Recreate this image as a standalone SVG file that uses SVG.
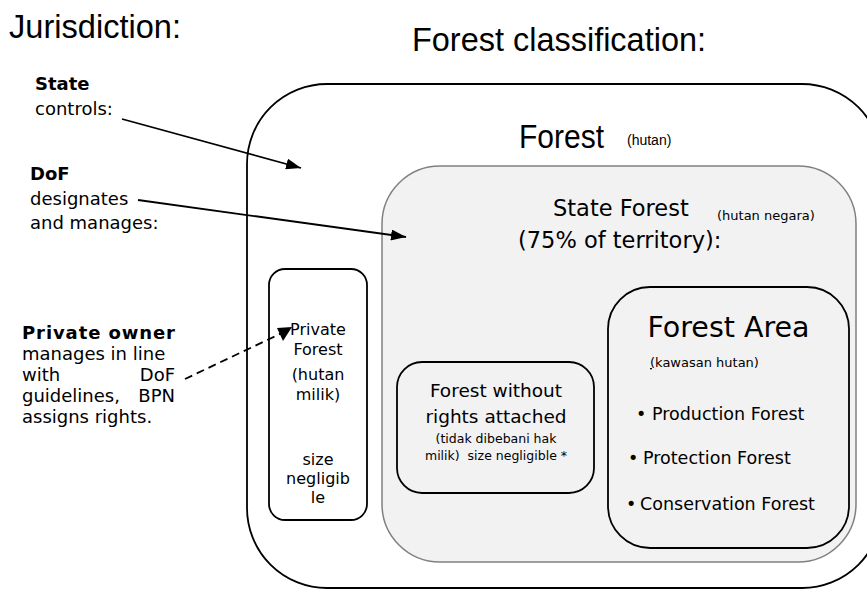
<svg xmlns="http://www.w3.org/2000/svg" width="867" height="590" viewBox="0 0 867 590">
<defs>
<style>
.t{font-family:"DejaVu Sans",Verdana,sans-serif;fill:#000}
.n{font-family:"Liberation Sans",Arial,sans-serif;fill:#000}
.b{font-weight:bold}
.box{fill:none;stroke:#000;stroke-width:1.8}
.gray{fill:#f2f2f2;stroke:#808080;stroke-width:1.5}
.conn{fill:none;stroke:#000;stroke-width:1.8}
</style>
<marker id="ah" viewBox="0 0 15 11" refX="15" refY="5.5" markerWidth="15" markerHeight="11" markerUnits="userSpaceOnUse" orient="auto">
<path d="M0,0 L15,5.5 L0,11 z" fill="#000"/>
</marker>
</defs>
<rect width="867" height="590" fill="#fff"/>

<text class="n" x="9" y="38" font-size="34" textLength="172" lengthAdjust="spacingAndGlyphs">Jurisdiction:</text>
<text class="n" x="412" y="51" font-size="34" textLength="294" lengthAdjust="spacingAndGlyphs">Forest classification:</text>

<g id="forest">
<rect x="247" y="84" width="635" height="504" rx="80" ry="80" fill="#fff" stroke="#000" stroke-width="1.8"/>
<text class="n" x="519" y="148" font-size="34" textLength="85" lengthAdjust="spacingAndGlyphs">Forest</text>
<text class="n" x="627" y="145" font-size="14">(hutan)</text>
</g>

<g id="state-forest">
<rect class="gray" x="382" y="166" width="474" height="396" rx="58" ry="58"/>
<text class="t" x="553" y="216" font-size="22.5">State Forest</text>
<text class="t" x="717" y="220" font-size="13">(hutan negara)</text>
<text class="t" x="518" y="248" font-size="22.5">(75% of territory):</text>
</g>

<g id="private-forest">
<rect class="box" x="269" y="269" width="98" height="251" rx="16" ry="16"/>
<g class="t" font-size="16" text-anchor="middle">
<text x="318" y="335">Private</text>
<text x="318" y="355">Forest</text>
<text x="318" y="380">(hutan</text>
<text x="318" y="400">milik)</text>
<text x="318" y="465">size</text>
<text x="318" y="484">negligib</text>
<text x="318" y="503">le</text>
</g>
</g>

<g id="forest-without-rights">
<rect class="box" x="397" y="362" width="197" height="131" rx="25" ry="25"/>
<g class="t" text-anchor="middle">
<text x="496" y="397" font-size="18.5">Forest without</text>
<text x="496" y="423" font-size="18.5">rights attached</text>
<text x="496" y="443" font-size="12.5">(tidak dibebani hak</text>
<text x="496" y="460" font-size="12.5" xml:space="preserve">milik)  size negligible *</text>
</g>
</g>

<g id="forest-area">
<rect class="box" x="608" y="287" width="241" height="261" rx="42" ry="42"/>
<text class="t" x="728.5" y="337" font-size="28.5" text-anchor="middle">Forest Area</text>
<text class="t" x="650" y="367" font-size="13"><tspan text-decoration="underline">(</tspan>kawasan hutan)</text>
<text class="t" y="420" font-size="17.5"><tspan x="636">•</tspan><tspan x="652">Production Forest</tspan></text>
<text class="t" y="464" font-size="17.5"><tspan x="628">•</tspan><tspan x="643">Protection Forest</tspan></text>
<text class="t" y="510" font-size="17.5"><tspan x="626">•</tspan><tspan x="640">Conservation Forest</tspan></text>
</g>

<g id="state-label" class="t" font-size="18">
<text class="b" x="35" y="90">State</text>
<text x="35" y="115">controls:</text>
</g>

<g id="dof-label" class="t" font-size="18">
<text class="b" x="30" y="180">DoF</text>
<text x="30" y="205">designates</text>
<text x="30" y="229">and manages:</text>
</g>

<g id="owner-label" class="t" font-size="18">
<text class="b" x="22" y="339" textLength="153">Private owner</text>
<text x="22" y="360">manages in line</text>
<text x="22" y="381">with</text>
<text x="175" y="381" text-anchor="end">DoF</text>
<text x="22" y="402">guidelines,</text>
<text x="175" y="402" text-anchor="end">BPN</text>
<text x="22" y="423">assigns rights.</text>
</g>

<g id="connectors">
<line class="conn" x1="122" y1="119" x2="301" y2="168" marker-end="url(#ah)"/>
<line class="conn" x1="138" y1="200" x2="406" y2="237" marker-end="url(#ah)"/>
<line class="conn" x1="185" y1="379" x2="282" y2="333" stroke-dasharray="8 5" stroke-width="1.6"/>
<polygon points="277,328 292,327 283,341" fill="#000"/>
</g>
</svg>
